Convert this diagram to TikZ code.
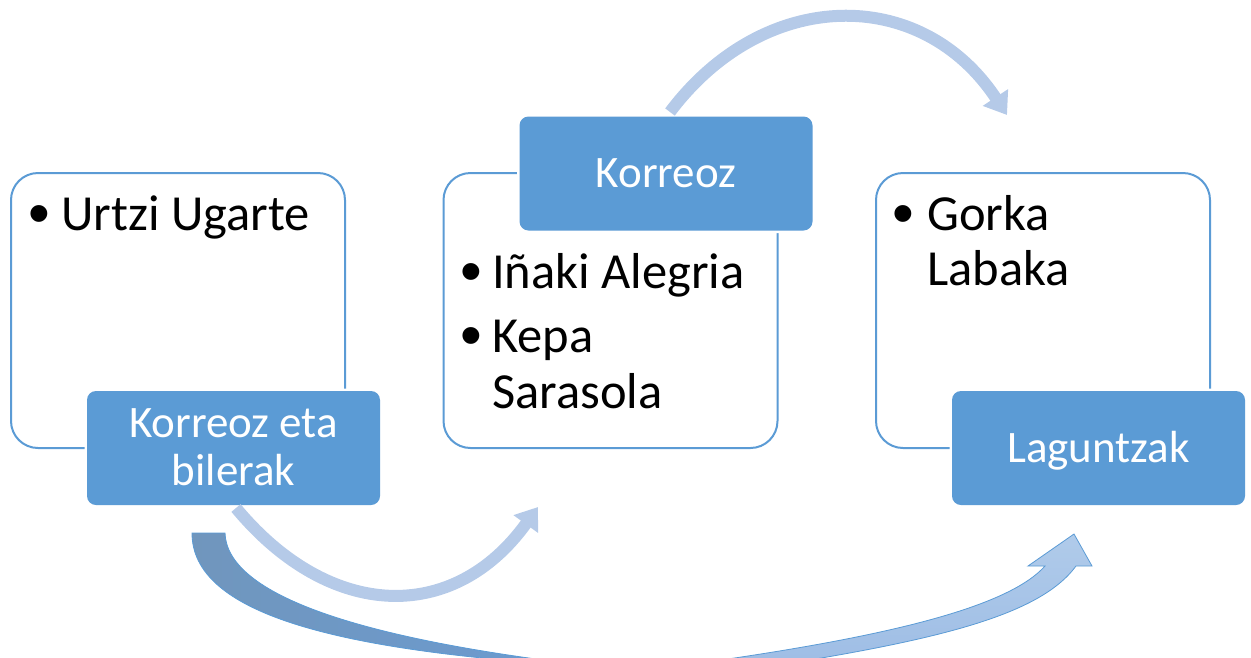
\documentclass[tikz,border=0pt]{standalone}
\usepackage{fontspec}
\setmainfont{Carlito}
\newfontfamily\bulletfont{Liberation Sans}
\usetikzlibrary{arrows.meta}

\definecolor{accent}{HTML}{5B9BD5}
\definecolor{flowlight}{HTML}{B5CAE8}
\definecolor{backdark}{HTML}{7096BD}
\definecolor{backblue}{HTML}{6B9BD2}
\definecolor{frontlo}{HTML}{9EBDE5}
\definecolor{fronthi}{HTML}{B0CBEA}

\begin{document}
\begin{tikzpicture}[x=1pt,y=-1pt,
  panel/.style={draw=accent, line width=2pt, rounded corners=27pt, fill=white,
    inner sep=0pt, outer sep=0pt, minimum width=334pt, minimum height=275pt},
  tag/.style={fill=accent, rounded corners=9pt, preaction={draw=white, line width=5pt},
    inner sep=0pt, outer sep=0pt, minimum width=293pt, minimum height=114pt},
  itemtext/.style={anchor=base west, inner sep=0pt, text=black,
    font=\fontsize{50.5}{55}\selectfont},
  bul/.style={anchor=base, inner sep=0pt, text=black,
    font=\bulletfont\fontsize{62}{62}\selectfont},
  tagtext/.style={anchor=base, inner sep=0pt, text=white,
    font=\fontsize{45}{48}\selectfont},
  flow/.style={draw=flowlight, line width=12pt, -{Triangle[width=29pt,length=21pt]}}
]
\useasboundingbox (0,0) rectangle (1251,657);
\clip (0,0) rectangle (1251,657);

% content panels
\node[panel] (p1) at (178,310.5) {};
\node[panel] (p2) at (610.5,310.5) {};
\node[panel] (p3) at (1043,310.5) {};

% heading tags
\node[tag] (g1) at (233.5,448) {};
\node[tag] (g2) at (666,173.5) {};
\node[tag] (g3) at (1098.5,448) {};

% panel texts
\node[bul] (b1) at (39,234) {•};
\node[itemtext] (t1) at (61,230) {Urtzi Ugarte};

\node[bul] (b2) at (471,292) {•};
\node[itemtext] (t2) at (492,288) {Iñaki Alegria};
\node[bul] (b3) at (471,356) {•};
\node[itemtext] (t3) at (492,352) {Kepa};
\node[itemtext] (t4) at (492,408) {Sarasola};

\node[bul] (b4) at (903,234) {•};
\node[itemtext] (t5) at (927,230) {Gorka};
\node[itemtext] (t6) at (927,285) {Labaka};

% tag texts
\node[tagtext] (h1a) at (233.5,437) {Korreoz eta};
\node[tagtext] (h1b) at (233.5,485) {bilerak};
\node[tagtext] (h2) at (666,187) {Korreoz};
\node[tagtext] (h3) at (1098.5,462) {Laguntzak};

% light curved arrows
\coordinate (u1) at (670,112);
\coordinate (u2) at (1007,115);
\draw[flow] (u1) .. controls (764,-13) and (921,-15) .. (u2);

\coordinate (m1) at (236,508);
\coordinate (m2) at (538,507);
\draw[flow] (m1) .. controls (329,620) and (453,625) .. (m2);

% long curved arrow: shaded back part and front part with head
\coordinate (k1) at (192,533);
\coordinate (k2) at (225,533);
\coordinate (k3) at (600,667);
\path[left color=backdark, right color=backblue, draw=accent, line width=0.8pt]
  (k1) -- (k2) .. controls (227,595) and (360,640) .. (k3)
  .. controls (330,652) and (192,612) .. (k1) -- cycle;

\coordinate (f1) at (700,663);
\coordinate (f2) at (1045,566);
\coordinate (f3) at (1028,566);
\coordinate (f4) at (1074,534);
\coordinate (f5) at (1092,566);
\coordinate (f6) at (1076,566);
\coordinate (f7) at (760,668);
\path[top color=fronthi, bottom color=frontlo, draw=accent, line width=0.8pt]
  (f1) .. controls (900,635) and (1010,605) .. (f2) -- (f3) -- (f4) -- (f5) -- (f6)
  .. controls (1040,615) and (940,640) .. (f7) -- cycle;
\end{tikzpicture}
\end{document}
